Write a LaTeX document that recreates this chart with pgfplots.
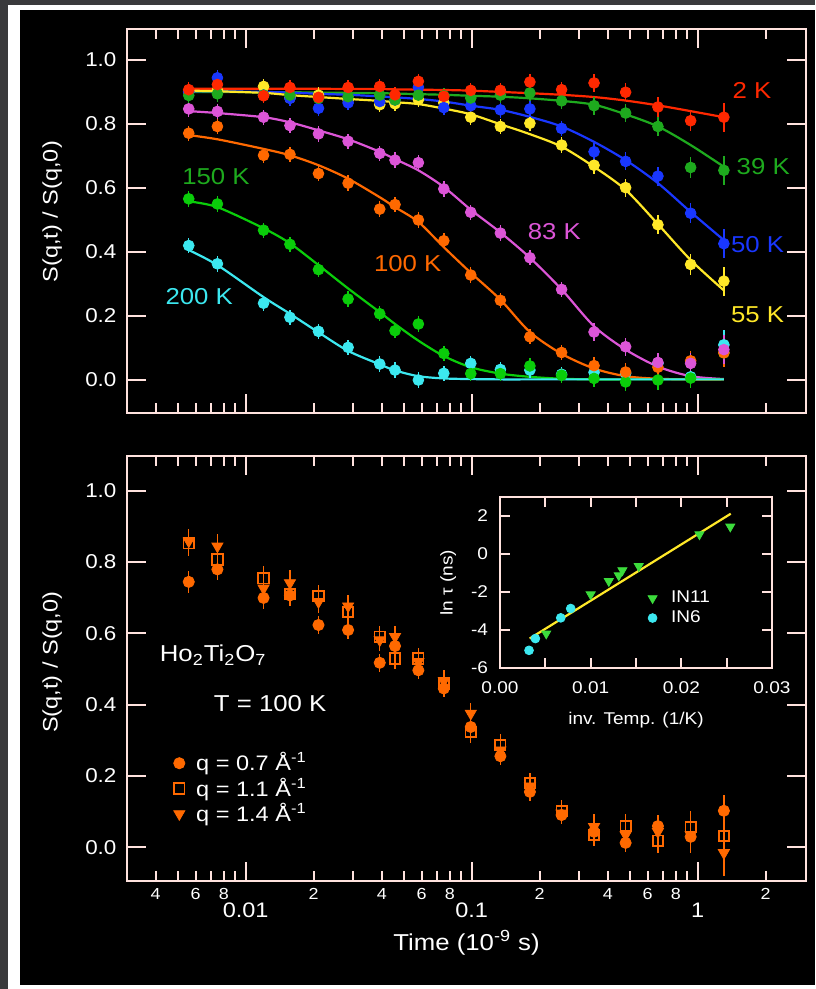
\documentclass[border=0pt]{standalone}
\usepackage{fontspec}
\setmainfont{Liberation Sans}[FakeStretch=1.12]
\usepackage{pgfplots}
\usepackage{pgfplotstable}
\pgfplotsset{compat=1.18}

\definecolor{frame}{RGB}{255,226,222}
\definecolor{bgGray}{RGB}{58,58,60}
\definecolor{cRed}{RGB}{255,40,0}
\definecolor{cGreenA}{RGB}{30,170,30}
\definecolor{cBlue}{RGB}{25,55,255}
\definecolor{cYellow}{RGB}{255,232,40}
\definecolor{cMag}{RGB}{220,85,215}
\definecolor{cOrange}{RGB}{255,105,0}
\definecolor{cGreenB}{RGB}{10,205,10}
\definecolor{cCyan}{RGB}{60,232,240}
\definecolor{cIN}{RGB}{60,220,60}

\newcommand{\majlab}[1]{\raisebox{-14.5pt}[0pt][0pt]{#1}}
\newcommand{\tlab}{\fontsize{11.5}{13}\selectfont}

\pgfplotstableread{
t      r2    g39   b50   y55   m83   o100  g150   c200  e
0.0056 0.907 0.889 0.900 0.900 0.847 0.771 0.566  0.420 0.024
0.0075 0.923 0.894 0.944 0.905 0.839 0.792 0.550  0.363 0.024
0.0120 0.888 0.890 0.890 0.917 0.821 0.702 0.468  0.240 0.024
0.0157 0.914 0.890 0.880 0.881 0.795 0.705 0.424  0.196 0.024
0.0210 0.883 0.880 0.849 0.890 0.769 0.645 0.345  0.152 0.024
0.0284 0.914 0.885 0.866 0.875 0.746 0.615 0.253  0.102 0.024
0.0392 0.917 0.890 0.870 0.860 0.708 0.534 0.207  0.050 0.024
0.0458 0.891 0.875 0.875 0.863 0.687 0.548 0.154  0.031 0.024
0.0581 0.933 0.890 0.915 0.876 0.679 0.500 0.175  0.000 0.024
0.0753 0.886 0.888 0.851 0.866 0.597 0.435 0.083  0.021 0.024
0.0991 0.905 0.881 0.857 0.821 0.524 0.328 0.020  0.052 0.024
0.134  0.905 0.890 0.844 0.792 0.459 0.249 0.020  0.033 0.024
0.181  0.931 0.897 0.847 0.802 0.382 0.135 0.044  0.031 0.024
0.250  0.907 0.872 0.786 0.734 0.283 0.086 0.015  0.018 0.024
0.348  0.928 0.857 0.713 0.671 0.150 0.045 0.005  0.024 0.028
0.480  0.899 0.834 0.683 0.601 0.104 0.025 -0.006 0.021 0.028
0.667  0.853 0.792 0.637 0.485 0.055 0.040 0.000  0.052 0.030
0.931  0.810 0.664 0.521 0.361 0.052 0.060 0.006  0.010 0.032
1.306  0.821 0.655 0.426 0.309 0.095 0.085 0.085  0.110 0.045
}\topdata

\pgfplotstableread{
t      r2    g39   b50   y55   m83   o100  g150  c200
0.0056 0.910 0.900 0.902 0.904 0.840 0.765 0.558 0.406
0.0075 0.910 0.900 0.902 0.902 0.834 0.752 0.540 0.359
0.0120 0.910 0.899 0.900 0.897 0.821 0.722 0.474 0.259
0.0157 0.910 0.899 0.898 0.890 0.805 0.702 0.427 0.207
0.0210 0.910 0.898 0.894 0.884 0.780 0.671 0.359 0.149
0.0284 0.909 0.897 0.891 0.878 0.752 0.629 0.286 0.091
0.0392 0.909 0.896 0.886 0.872 0.713 0.571 0.212 0.049
0.0458 0.908 0.895 0.883 0.868 0.690 0.540 0.175 0.030
0.0581 0.907 0.893 0.878 0.862 0.655 0.494 0.123 0.012
0.0753 0.906 0.891 0.870 0.848 0.603 0.415 0.075 0.005
0.0991 0.904 0.888 0.857 0.830 0.532 0.335 0.040 0.003
0.134  0.900 0.885 0.844 0.799 0.461 0.251 0.020 0.002
0.181  0.896 0.880 0.822 0.768 0.382 0.150 0.010 0.002
0.250  0.891 0.872 0.792 0.729 0.283 0.082 0.004 0.002
0.348  0.884 0.860 0.744 0.666 0.168 0.036 0.002 0.002
0.480  0.873 0.830 0.687 0.594 0.095 0.012 0.002 0.002
0.667  0.858 0.792 0.615 0.487 0.042 0.004 0.002 0.002
0.931  0.840 0.734 0.525 0.375 0.012 0.002 0.002 0.002
1.306  0.821 0.666 0.437 0.280 0.003 0.002 0.002 0.002
}\fitdata

\pgfplotstableread{
t      c      ce    s     se    v      ve
0.0056 0.744  0.030 0.852 0.035 0.858  0.035
0.0075 0.779  0.030 0.807 0.035 0.844  0.035
0.0120 0.699  0.030 0.754 0.035 0.726  0.035
0.0157 0.706  0.030 0.710 0.035 0.741  0.035
0.0210 0.623  0.025 0.704 0.030 0.688  0.030
0.0284 0.609  0.025 0.660 0.030 0.676  0.030
0.0392 0.517  0.025 0.590 0.030 0.581  0.030
0.0458 0.564  0.025 0.529 0.030 0.590  0.030
0.0581 0.496  0.025 0.529 0.030 0.520  0.030
0.0753 0.445  0.025 0.459 0.030 0.466  0.030
0.0991 0.337  0.025 0.323 0.030 0.375  0.030
0.134  0.255  0.025 0.286 0.030 0.272  0.030
0.181  0.155  0.025 0.179 0.030 0.171  0.030
0.250  0.090  0.025 0.101 0.030 0.095  0.030
0.348  0.043  0.025 0.034 0.030 0.057  0.035
0.480  0.012  0.025 0.059 0.035 0.034  0.035
0.667  0.059  0.030 0.018 0.035 0.043  0.035
0.931  0.029  0.040 0.057 0.045 0.034  0.050
1.306  0.102  0.045 0.031 0.055 -0.016 0.065
}\botdata

\pgfplotstableread{
x       y
0.0051  -4.19
0.0100  -2.13
0.0120  -1.43
0.0131  -1.13
0.0135  -0.86
0.0153  -0.64
0.0220   1.03
0.0254   1.44
}\inelf
\pgfplotstableread{
x       y
0.0032  -5.07
0.0039  -4.45
0.0067  -3.36
0.0078  -2.87
}\insix

\pgfplotsset{
  dat/.style={only marks, mark=*, mark size=2.7pt, color=#1,
    error bars/y dir=both, error bars/y explicit,
    error bars/error mark=none,
    error bars/error bar style={line width=0.7pt, color=#1}},
  fit/.style={no marks, smooth, line width=1.1pt, color=#1},
}

\begin{document}
\begin{tikzpicture}
\fill[bgGray] (0pt,0pt) rectangle (407.5pt,-494.5pt);
\fill[white] (4pt,-2.5pt) rectangle (407.5pt,-494.5pt);
\fill[black] (10pt,-5pt) rectangle (407.5pt,-492.5pt);

% ---------------- top panel ----------------
\begin{axis}[at={(63.75pt,-14.75pt)}, anchor=north west,
  scale only axis, width=339pt, height=191.75pt,
  xmode=log, xmin=0.003, xmax=3.0, ymin=-0.103, ymax=1.095,
  axis background/.style={fill=black},
  axis line style={frame, line width=1pt},
  tick style={frame, line width=1pt},
  major tick length=9.5pt, minor tick length=4.8pt,
  tick align=inside,
  xtick={0.01,0.1,1}, xticklabels={},
  minor xtick={0.004,0.005,0.006,0.007,0.008,0.009,0.02,0.03,0.04,0.05,0.06,0.07,0.08,0.09,0.2,0.3,0.4,0.5,0.6,0.7,0.8,0.9,2},
  ytick={0,0.2,0.4,0.6,0.8,1},
  yticklabels={0.0,0.2,0.4,0.6,0.8,1.0},
  tick label style={text=white},
  yticklabel style={font=\fontsize{10}{12}\selectfont, xshift=-2pt},
  ylabel={S(q,t) / S(q,0)},
  ylabel style={font=\fontsize{10.5}{12}\selectfont, text=white, anchor=center,
    at={(axis description cs:-0.111,0.525)}}]
\addplot[fit=cRed]    table[x=t,y=r2]   \fitdata;
\addplot[fit=cGreenA] table[x=t,y=g39]  \fitdata;
\addplot[fit=cBlue]   table[x=t,y=b50]  \fitdata;
\addplot[fit=cYellow] table[x=t,y=y55]  \fitdata;
\addplot[fit=cMag]    table[x=t,y=m83]  \fitdata;
\addplot[fit=cOrange] table[x=t,y=o100] \fitdata;
\addplot[fit=cGreenB] table[x=t,y=g150] \fitdata;
\addplot[fit=cCyan]   table[x=t,y=c200] \fitdata;

\addplot[dat=cCyan]   table[x=t,y=c200,y error=e] \topdata;
\addplot[dat=cGreenB] table[x=t,y=g150,y error=e] \topdata;
\addplot[dat=cOrange] table[x=t,y=o100,y error=e] \topdata;
\addplot[dat=cMag]    table[x=t,y=m83, y error=e] \topdata;
\addplot[dat=cYellow] table[x=t,y=y55, y error=e] \topdata;
\addplot[dat=cBlue]   table[x=t,y=b50, y error=e] \topdata;
\addplot[dat=cGreenA] table[x=t,y=g39, y error=e] \topdata;
\addplot[dat=cRed]    table[x=t,y=r2,  y error=e] \topdata;

\node[text=cRed,    font=\tlab] at (axis cs:1.74,0.906)   {2 K};
\node[text=cGreenA, font=\tlab] at (axis cs:1.95,0.667)   {39 K};
\node[text=cBlue,   font=\tlab] at (axis cs:1.84,0.422)   {50 K};
\node[text=cYellow, font=\tlab] at (axis cs:1.84,0.203)   {55 K};
\node[text=cMag,    font=\tlab] at (axis cs:0.232,0.463)  {83 K};
\node[text=cOrange, font=\tlab] at (axis cs:0.0521,0.365) {100 K};
\node[text=cGreenA, font=\tlab] at (axis cs:0.00739,0.635){150 K};
\node[text=cCyan,   font=\tlab] at (axis cs:0.00623,0.260){200 K};
\end{axis}

% ---------------- bottom panel ----------------
\begin{axis}[at={(63.75pt,-228pt)}, anchor=north west,
  scale only axis, width=339pt, height=212.5pt,
  xmode=log, xmin=0.003, xmax=3.0, ymin=-0.095, ymax=1.097,
  axis background/.style={fill=black},
  axis line style={frame, line width=1pt},
  tick style={frame, line width=1pt},
  major tick length=9.5pt, minor tick length=4.8pt,
  tick align=inside,
  xtick={0.01,0.1,1},
  xticklabels={\majlab{0.01},\majlab{0.1},\majlab{1}},
  minor xtick={0.005,0.007,0.009,0.03,0.05,0.07,0.09,0.3,0.5,0.7,0.9},
  extra x ticks={0.004,0.006,0.008,0.02,0.04,0.06,0.08,0.2,0.4,0.6,0.8,2},
  extra x tick labels={4,6,8,2,4,6,8,2,4,6,8,2},
  extra x tick style={major tick length=4.8pt,
    xticklabel style={font=\fontsize{8}{9}\selectfont}},
  ytick={0,0.2,0.4,0.6,0.8,1},
  yticklabels={0.0,0.2,0.4,0.6,0.8,1.0},
  tick label style={text=white},
  xticklabel style={font=\fontsize{10.5}{12}\selectfont},
  yticklabel style={font=\fontsize{10}{12}\selectfont, xshift=-2pt},
  xlabel={Time (10\textsuperscript{-9} s)},
  xlabel style={at={(axis description cs:0.5,-0.146)}, anchor=center,
    font=\fontsize{11.5}{13}\selectfont, text=white},
  ylabel={S(q,t) / S(q,0)},
  ylabel style={font=\fontsize{10.5}{12}\selectfont, text=white, anchor=center,
    at={(axis description cs:-0.111,0.515)}},
  legend image code/.code={\draw[#1] plot coordinates {(0cm,0cm)}; \path (-0.1cm,0cm) (0.22cm,0cm);},
  legend style={at={(axis description cs:0.058,0.322)}, anchor=north west,
    draw=none, fill=none, text=white, font=\fontsize{10.5}{12}\selectfont,
    row sep=-2pt},
  legend cell align=left]
\addplot[dat=cOrange, mark size=2.8pt] table[x=t,y=c,y error=ce] \botdata;
\addlegendentry{q = 0.7 Å\textsuperscript{-1}}
\addplot[dat=cOrange, mark=square, mark size=2.6pt, mark options={line width=0.9pt}] table[x=t,y=s,y error=se] \botdata;
\addlegendentry{q = 1.1 Å\textsuperscript{-1}}
\addplot[dat=cOrange, mark=triangle*, mark size=3.2pt, mark options={rotate=180}] table[x=t,y=v,y error=ve] \botdata;
\addlegendentry{q = 1.4 Å\textsuperscript{-1}}

\node[text=white, font=\fontsize{11.5}{13}\selectfont] at (axis cs:0.00718,0.539)
  {Ho\textsubscript{2}Ti\textsubscript{2}O\textsubscript{7}};
\node[text=white, font=\fontsize{11.5}{13}\selectfont] at (axis cs:0.01284,0.403) {T = 100 K};
\end{axis}

% ---------------- inset ----------------
\begin{axis}[at={(250pt,-248.5pt)}, anchor=north west,
  scale only axis, width=136pt, height=85.5pt,
  xmin=0, xmax=0.03, ymin=-6, ymax=3,
  scaled x ticks=false, scaled y ticks=false,
  axis background/.style={fill=black},
  axis line style={frame, line width=0.9pt},
  tick style={frame, line width=0.9pt},
  major tick length=5pt, minor tick length=5pt, tick align=inside,
  xtick={0,0.01,0.02,0.03}, xticklabels={0.00,0.01,0.02,0.03},
  minor xtick={0.005,0.015,0.025},
  ytick={-6,-4,-2,0,2}, yticklabels={-6,-4,-2,0,2},
  tick label style={text=white, font=\fontsize{8.5}{10}\selectfont},
  xticklabel style={yshift=-3.5pt},
  yticklabel style={xshift=-2.5pt},
  xlabel={inv. Temp. (1/K)},
  xlabel style={at={(axis description cs:0.5,-0.304)}, anchor=center,
    text=white, font=\fontsize{8.5}{10}\selectfont},
  ylabel={ln τ (ns)},
  ylabel style={at={(axis description cs:-0.19,0.5)}, anchor=center,
    text=white, font=\fontsize{8.5}{10}\selectfont},
  legend image code/.code={\draw[#1] plot coordinates {(0cm,0cm)}; \path (-0.1cm,0cm) (0.25cm,0cm);},
  legend style={at={(axis description cs:0.515,0.5)}, anchor=north west,
    draw=none, fill=none, text=white, font=\fontsize{8.5}{10}\selectfont,
    row sep=-1.5pt},
  legend cell align=left]
\addplot[cYellow, line width=1.1pt, forget plot] coordinates {(0.00327,-4.45) (0.02545,2.12)};
\addplot[only marks, mark=triangle*, mark size=2.6pt, mark options={rotate=180}, color=cIN] table[x=x,y=y] \inelf;
\addlegendentry{IN11}
\addplot[only marks, mark=*, mark size=2.2pt, color=cCyan] table[x=x,y=y] \insix;
\addlegendentry{IN6}
\end{axis}
\end{tikzpicture}
\end{document}
